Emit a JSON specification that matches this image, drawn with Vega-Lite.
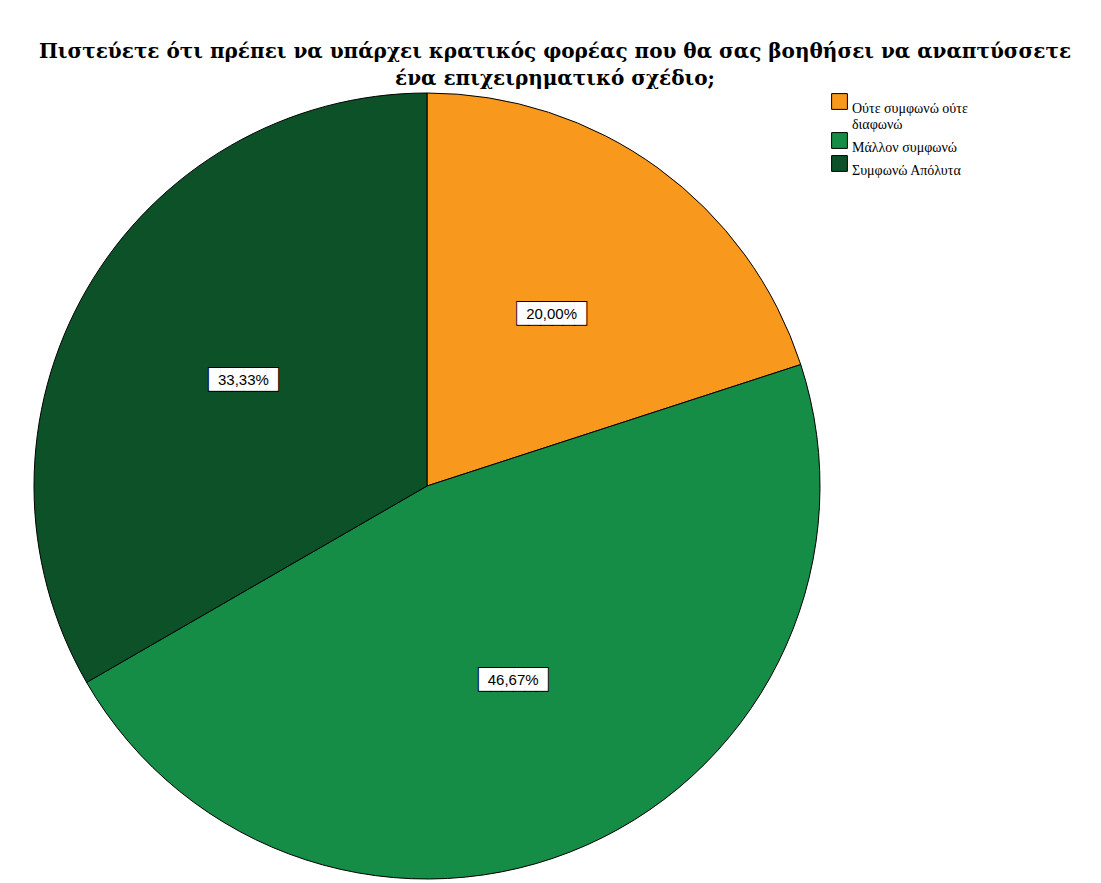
{
  "$schema": "https://vega.github.io/schema/vega-lite/v6.json",
  "autosize": "none",
  "width": 786,
  "height": 786,
  "padding": {"left": 34, "top": 93, "right": 281, "bottom": 4},
  "background": "white",
  "config": {"view": {"stroke": null}},
  "title": {
    "text": ["Πιστεύετε ότι πρέπει να υπάρχει κρατικός φορέας που θα σας βοηθήσει να αναπτύσσετε", "ένα επιχειρηματικό σχέδιο;"],
    "font": "DejaVu Serif",
    "fontSize": 20,
    "fontWeight": "bold",
    "color": "black",
    "anchor": "middle",
    "frame": "group",
    "dx": 128,
    "offset": 2,
    "lineHeight": 27,
    "limit": 1100
  },
  "data": {
    "values": [
      {"category": "Ούτε συμφωνώ ούτε διαφωνώ", "k": 1, "percent": 20.00, "label": "20,00%"},
      {"category": "Μάλλον συμφωνώ", "k": 2, "percent": 46.67, "label": "46,67%"},
      {"category": "Συμφωνώ Απόλυτα", "k": 3, "percent": 33.33, "label": "33,33%"}
    ]
  },
  "encoding": {
    "theta": {"field": "percent", "type": "quantitative", "stack": true},
    "order": {"field": "k", "type": "quantitative"}
  },
  "layer": [
    {
      "mark": {"type": "arc", "outerRadius": 393, "stroke": "black", "strokeWidth": 1},
      "encoding": {
        "color": {
          "field": "category",
          "type": "nominal",
          "sort": ["Ούτε συμφωνώ ούτε διαφωνώ", "Μάλλον συμφωνώ", "Συμφωνώ Απόλυτα"],
          "scale": {
            "domain": ["Ούτε συμφωνώ ούτε διαφωνώ", "Μάλλον συμφωνώ", "Συμφωνώ Απόλυτα"],
            "range": ["#F8981D", "#158D47", "#0C5128"]
          },
          "legend": {
            "title": null,
            "orient": "none",
            "legendX": 797,
            "legendY": 0,
            "symbolType": "square",
            "symbolSize": 250,
            "symbolStrokeColor": "black",
            "symbolStrokeWidth": 1,
            "labelFont": "Liberation Serif",
            "labelFontSize": 14,
            "labelLineHeight": 15,
            "labelColor": "black",
            "labelLimit": 300,
            "labelOffset": 4,
            "rowPadding": -6,
            "labelBaseline": "top",
            "labelExpr": "datum.label == 'Ούτε συμφωνώ ούτε διαφωνώ' ? ['Ούτε συμφωνώ ούτε', 'διαφωνώ'] : datum.label"
          }
        }
      }
    },
    {
      "mark": {"type": "text", "radius": 212, "text": "██████", "font": "DejaVu Sans Mono", "fontSize": 19, "fill": "white", "stroke": "black", "strokeWidth": 2, "baseline": "middle", "align": "center"}
    },
    {
      "mark": {"type": "text", "radius": 212, "text": "██████", "font": "DejaVu Sans Mono", "fontSize": 19, "fill": "white", "baseline": "middle", "align": "center"}
    },
    {
      "mark": {"type": "text", "radius": 212, "font": "Liberation Sans", "fontSize": 15, "fill": "black", "baseline": "middle", "align": "center"},
      "encoding": {"text": {"field": "label"}}
    }
  ]
}
